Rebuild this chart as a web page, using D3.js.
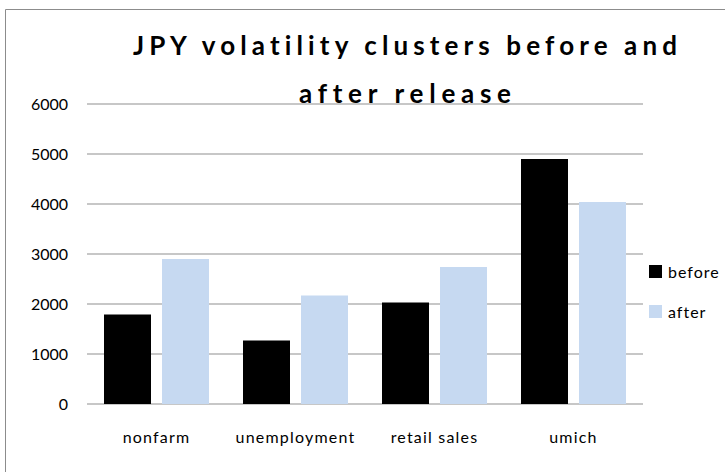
<!DOCTYPE html>
<html>
<head>
<meta charset="utf-8" />
<title>JPY volatility clusters</title>
<script src="https://d3js.org/d3.v7.min.js"></script>
<style>
body { margin: 0; background: #fff; }
text { font-family: Lato, "Open Sans", sans-serif; fill: #000; font-variant-ligatures: none; }
</style>
</head>
<body>
<div id="viz"></div>
<script>
// chart data
var categories = ["nonfarm", "unemployment", "retail sales", "umich"];
var seriesNames = ["before", "after"];
var beforeValues = [1790, 1270, 2030, 4900];
var afterValues = [2900, 2170, 2740, 4040];
var yTicks = [0, 1000, 2000, 3000, 4000, 5000, 6000];
var titleLines = ["JPY volatility clusters before and", "after release"];

var width = 725, height = 472;
var colors = ["#000000", "#c6d9f1"];

var svg = d3.select("#viz").append("svg")
    .attr("width", width)
    .attr("height", height);

// outer frame (only top and left edges fall inside the picture)
svg.append("path")
    .attr("d", "M5.5," + height + "V9.5H" + width)
    .attr("fill", "none")
    .attr("stroke", "#8c8c8c")
    .attr("stroke-width", 1);

var plot = { left: 87, right: 643, top: 104, bottom: 404 };

var x0 = d3.scaleBand().domain(categories).range([plot.left, plot.right]);
var y = d3.scaleLinear().domain([0, 6000]).range([plot.bottom, plot.top]);

// gridlines
svg.append("g")
  .selectAll("line")
  .data(yTicks)
  .enter().append("line")
    .attr("x1", plot.left)
    .attr("x2", plot.right)
    .attr("y1", function(d) { return y(d); })
    .attr("y2", function(d) { return y(d); })
    .attr("stroke", "#b4b4b4")
    .attr("stroke-width", 1.5);

// y axis labels
svg.append("g")
  .selectAll("text")
  .data(yTicks)
  .enter().append("text")
    .attr("x", 68)
    .attr("y", function(d) { return y(d); })
    .attr("dy", "0.35em")
    .attr("text-anchor", "end")
    .style("font-size", "16px")
    .text(function(d) { return d; });

// bars
var barW = 47, gap = 11;
var rows = categories.map(function(c, i) {
  return { cat: c, vals: [beforeValues[i], afterValues[i]] };
});

var groups = svg.append("g")
  .selectAll("g")
  .data(rows)
  .enter().append("g")
    .attr("transform", function(d) {
      return "translate(" + (x0(d.cat) + x0.bandwidth() / 2) + ",0)";
    });

groups.selectAll("rect")
  .data(function(d) { return d.vals; })
  .enter().append("rect")
    .attr("x", function(d, i) { return i === 0 ? -barW - gap / 2 : gap / 2; })
    .attr("y", function(d) { return y(d); })
    .attr("width", barW)
    .attr("height", function(d) { return y(0) - y(d); })
    .attr("fill", function(d, i) { return colors[i]; });

// x axis labels
svg.append("g")
  .selectAll("text")
  .data(categories)
  .enter().append("text")
    .attr("x", function(d) { return x0(d) + x0.bandwidth() / 2; })
    .attr("y", 443)
    .attr("text-anchor", "middle")
    .style("font-size", "16px")
    .style("letter-spacing", "1.2px")
    .text(function(d) { return d; });

// title
var titleWidths = [544, 212];
svg.append("g")
  .selectAll("text")
  .data(titleLines)
  .enter().append("text")
    .attr("x", 405)
    .attr("y", function(d, i) { return 55 + i * 48; })
    .attr("text-anchor", "middle")
    .attr("textLength", function(d, i) { return titleWidths[i]; })
    .attr("lengthAdjust", "spacing")
    .style("font-size", "26px")
    .style("font-weight", "bold")
    .text(function(d) { return d; });

// legend
var legend = svg.append("g")
  .selectAll("g")
  .data(seriesNames)
  .enter().append("g")
    .attr("transform", function(d, i) { return "translate(649," + (265 + i * 40) + ")"; });

legend.append("rect")
    .attr("width", 13)
    .attr("height", 13)
    .attr("fill", function(d, i) { return colors[i]; });

legend.append("text")
    .attr("x", 19)
    .attr("y", 7)
    .attr("dy", "0.35em")
    .style("font-size", "16px")
    .style("letter-spacing", "1px")
    .text(function(d) { return d; });
</script>
</body>
</html>
